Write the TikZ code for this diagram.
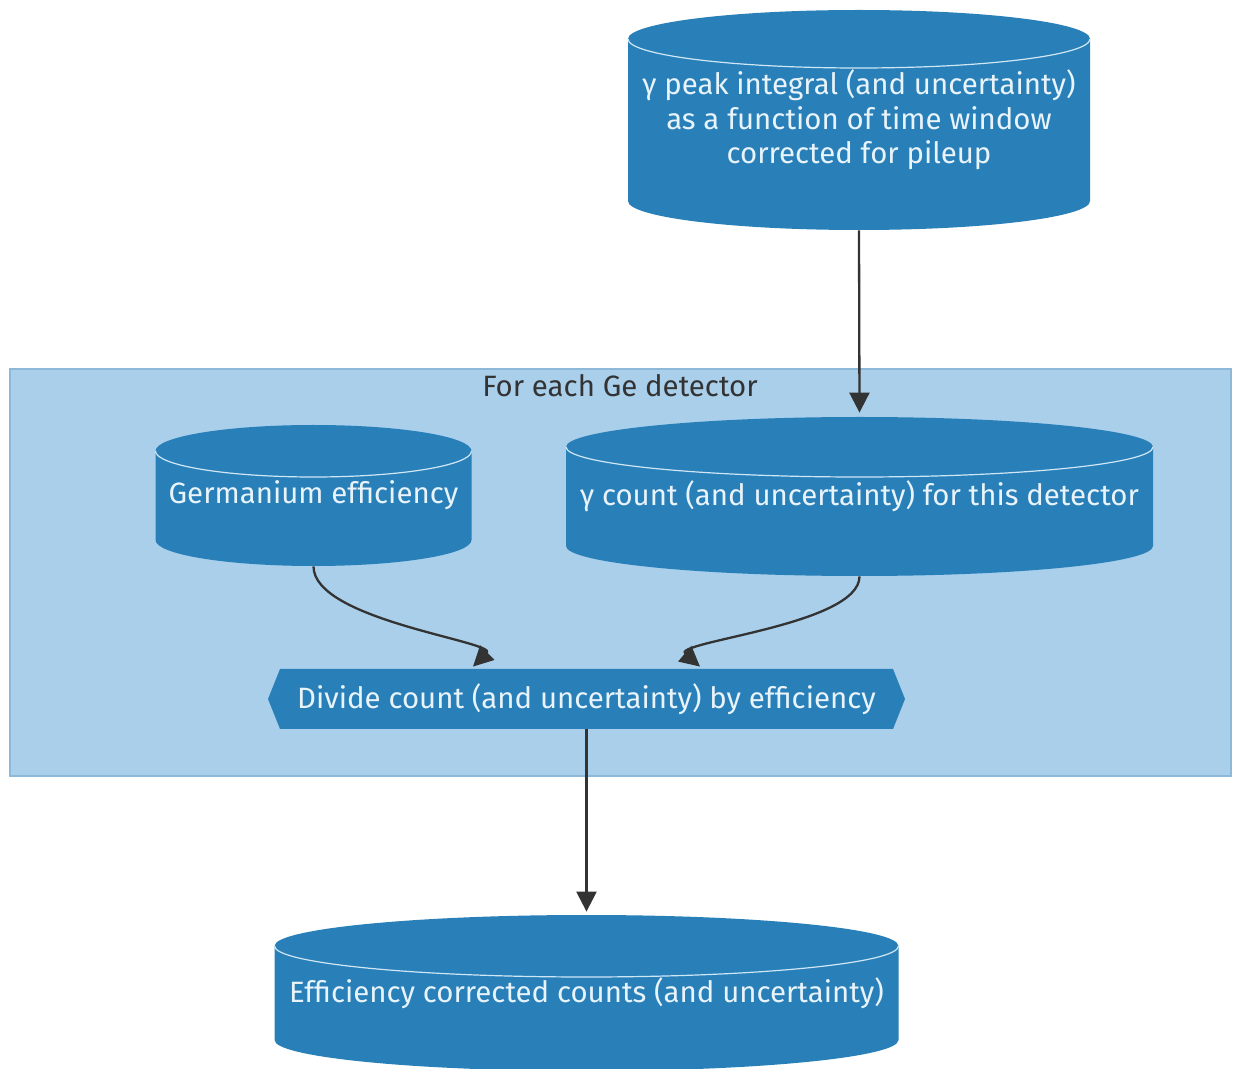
\documentclass[tikz,border=0pt]{standalone}
\usepackage{fontspec}
\setmainfont{Fira Sans}
\usetikzlibrary{arrows.meta}

\definecolor{dbfill}{HTML}{2980B9}
\definecolor{dbtext}{HTML}{E8F3FA}
\definecolor{rim}{HTML}{CFE6F5}
\definecolor{groupfill}{HTML}{A9CFEB}
\definecolor{groupline}{HTML}{8DB8D8}
\definecolor{flowline}{HTML}{333333}

\tikzset{
  x=0.5pt, y=-0.5pt,
  textfont/.style={font=\fontsize{14.7}{17.3}\selectfont},
  dblabel/.style={textfont, text=dbtext, align=center, inner sep=0pt, draw=none},
  flow/.style={draw=flowline, line width=1.15pt,
    -{Triangle[length=10pt, width=10pt]}},
}

% a database drum: centre x, top-ellipse y, bottom-ellipse y, x radius, y radius (all in px)
\newcommand\dbdrum[5]{%
  \fill[dbfill] (#1-#4,#2) -- (#1-#4,#3)
    arc[start angle=180, end angle=360, x radius=#4*0.5pt, y radius=#5*0.5pt]
    -- (#1+#4,#2)
    arc[start angle=0, end angle=180, x radius=#4*0.5pt, y radius=#5*0.5pt] -- cycle;
  \draw[rim, line width=0.6pt] (#1-#4,#2)
    arc[start angle=180, end angle=360, x radius=#4*0.5pt, y radius=#5*0.5pt];
}

\begin{document}
\begin{tikzpicture}
  \useasboundingbox (0,0) rectangle (1233,1069);
  \fill[white] (0,0) rectangle (1233,1069);

  % group frame
  \draw[groupline, fill=groupfill, line width=0.6pt] (10,369) rectangle (1231,776);
  \node[textfont, text=flowline, inner sep=0pt] (grouptitle) at (620,386) {For each Ge detector};

  % drums
  \dbdrum{859}{39}{201}{231}{29}
  \node[dblabel, minimum width=231pt, minimum height=110pt] (peak) at (859,120)
    {γ peak integral (and uncertainty)\\as a function of time window\\corrected for pileup};

  \dbdrum{313.5}{451}{540}{158}{26}
  \node[dblabel, minimum width=158pt, minimum height=70.5pt] (germ) at (313.5,495.5)
    {Germanium efficiency};

  \dbdrum{859.5}{447}{546}{293.5}{30}
  \node[dblabel, minimum width=293.5pt, minimum height=79.5pt] (count) at (859.5,496.5)
    {γ count (and uncertainty) for this detector};

  \dbdrum{586.5}{946}{1040}{312}{31}
  \node[dblabel, minimum width=312pt, minimum height=78pt] (result) at (586.5,993)
    {Efficiency corrected counts (and uncertainty)};

  % hexagonal process box
  \fill[dbfill] (268,699) -- (280,669) -- (893,669) -- (905,699) -- (893,729) -- (280,729) -- cycle;
  \node[dblabel, minimum width=318.5pt, minimum height=30pt] (divide) at (586.5,699)
    {Divide count (and uncertainty) by efficiency};

  % connectors
  \draw[flow] (peak.south) -- ([yshift=2pt]count.north);
  \draw[flow] (germ.south)
    .. controls ([shift={(0,54)}]germ.south) and ([shift={(-88,-27)}]divide.north) ..
    ([shift={(-113.5,-2)}]divide.north);
  \draw[flow] (count.south)
    .. controls ([shift={(0,49)}]count.south) and ([shift={(84,-27)}]divide.north) ..
    ([shift={(113.5,-2)}]divide.north);
  \draw[flow] (divide.south) -- ([yshift=1.5pt]result.north);
\end{tikzpicture}
\end{document}
